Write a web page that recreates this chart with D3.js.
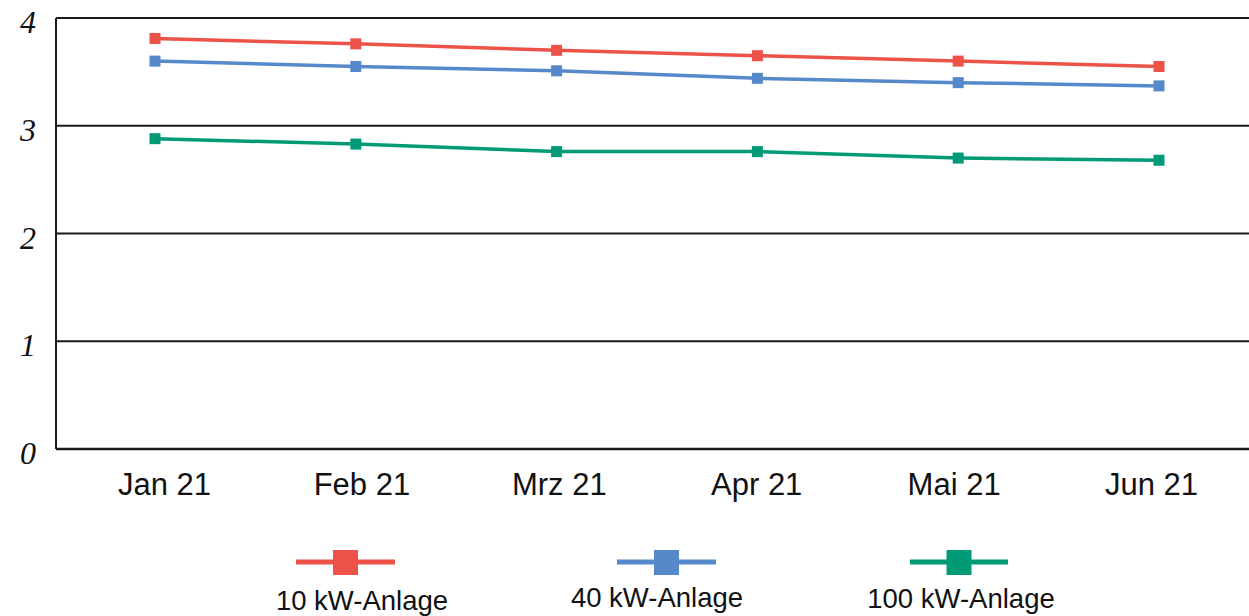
<!DOCTYPE html>
<html>
<head>
<meta charset="utf-8">
<script src="https://cdn.jsdelivr.net/npm/d3@7"></script>
<style>
  html, body { margin: 0; padding: 0; background: #fff; }
  svg { display: block; }
</style>
</head>
<body>
<svg id="chart" width="1249" height="616"></svg>
<script>
const months = ["Jan 21", "Feb 21", "Mrz 21", "Apr 21", "Mai 21", "Jun 21"];
const seriesNames = ["10 kW-Anlage", "40 kW-Anlage", "100 kW-Anlage"];
const values10 = [3.81, 3.76, 3.70, 3.65, 3.60, 3.55];
const values40 = [3.60, 3.55, 3.51, 3.44, 3.40, 3.37];
const values100 = [2.88, 2.83, 2.76, 2.76, 2.70, 2.68];
const yTicks = [0, 1, 2, 3, 4];
const colors = ["#EC5247", "#5589CA", "#009B76"];

(function () {
const series = [values10, values40, values100].map((v, i) => ({ name: seriesNames[i], values: v, color: colors[i] }));

const svg = d3.select("#chart");
const mLeft = 56, mRight = 1249, mTop = 18, mBottom = 449;

const x = d3.scalePoint().domain(months).range([155, 1159]);
const xLabel = d3.scalePoint().domain(months).range([164, 1151]);
const y = d3.scaleLinear().domain([0, 4]).range([mBottom, mTop]);

// gridlines
svg.append("g").selectAll("line").data(yTicks).join("line")
  .attr("x1", mLeft).attr("x2", mRight)
  .attr("y1", d => y(d)).attr("y2", d => y(d))
  .attr("stroke", "#1a1a1a").attr("stroke-width", d => d === 0 ? 2.5 : 2);

// left axis line
svg.append("line").attr("x1", mLeft).attr("x2", mLeft).attr("y1", mTop).attr("y2", mBottom)
  .attr("stroke", "#1a1a1a").attr("stroke-width", 2);

// y labels
svg.append("g").selectAll("text").data(yTicks).join("text")
  .attr("x", 36).attr("y", d => y(d) + 15)
  .attr("text-anchor", "end")
  .attr("font-family", "'Liberation Serif', serif")
  .attr("font-style", "italic")
  .attr("font-size", 32)
  .attr("fill", "#111")
  .text(d => d);

// x axis labels
const xAxis = d3.axisBottom(xLabel).tickSize(0).tickPadding(0);
const gx = svg.append("g").attr("transform", `translate(0,${mBottom})`).call(xAxis);
gx.select(".domain").remove();
gx.selectAll("text")
  .attr("y", 46).attr("dy", 0)
  .attr("font-family", "'Liberation Sans', Arial, sans-serif")
  .attr("font-size", 31)
  .attr("fill", "#111");

// lines
const line = d3.line().x((d, i) => x(months[i])).y(d => y(d));
const gs = svg.append("g").selectAll("g").data(series).join("g");
gs.append("path")
  .attr("d", d => line(d.values))
  .attr("fill", "none").attr("stroke", d => d.color).attr("stroke-width", 3.5);
gs.each(function(s) {
  d3.select(this).selectAll("rect").data(s.values).join("rect")
    .attr("x", (d, i) => x(months[i]) - 5.5)
    .attr("y", d => y(d) - 5.5)
    .attr("width", 11).attr("height", 11)
    .attr("fill", s.color);
});

// legend
const legendLine = [[296, 395], [617, 716], [910, 1008]];
const legendText = [[362, 610], [657, 607], [961, 608]];
const lg = svg.append("g").selectAll("g").data(series).join("g");
lg.append("line")
  .attr("x1", (d, i) => legendLine[i][0]).attr("x2", (d, i) => legendLine[i][1])
  .attr("y1", 562).attr("y2", 562)
  .attr("stroke", d => d.color).attr("stroke-width", 5);
lg.append("rect")
  .attr("x", (d, i) => (legendLine[i][0] + legendLine[i][1]) / 2 - 12.5)
  .attr("y", 550).attr("width", 25).attr("height", 25)
  .attr("fill", d => d.color);
lg.append("text")
  .attr("x", (d, i) => legendText[i][0]).attr("y", (d, i) => legendText[i][1])
  .attr("text-anchor", "middle")
  .attr("font-family", "'Liberation Sans', Arial, sans-serif")
  .attr("font-size", 27.5)
  .attr("fill", "#111")
  .text(d => d.name);
})();
</script>
</body>
</html>
